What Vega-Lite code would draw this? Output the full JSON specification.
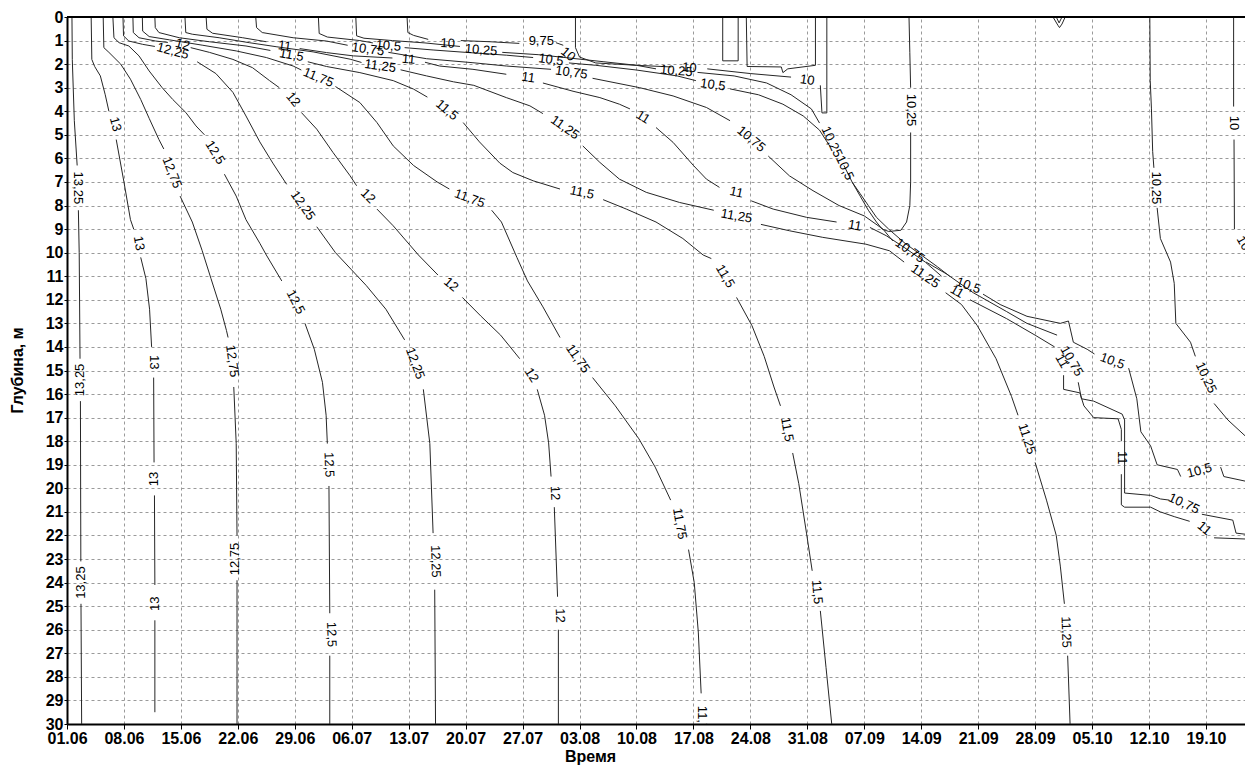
{
"$schema": "https://vega.github.io/schema/vega-lite/v6.json",
"width": 1178, "height": 707,
"autosize": "none",
"padding": {"left": 67, "top": 17, "right": 0, "bottom": 41},
"background": "white",
"config": {"view": {"stroke": null}, "axis": {"labelOverlap": false, "labelBound": false, "labelFlush": false}},
"datasets": {
"lines": [
{"s":"p1a","d":0.61,"z":0},{"s":"p1a","d":0.65,"z":1.8},{"s":"p1a","d":0.9,"z":4.4},{"s":"p1a","d":1.25,"z":6.3},
{"s":"p1b","d":1.4,"z":8.2},{"s":"p1b","d":1.5,"z":10},{"s":"p1b","d":1.6,"z":14.5},
{"s":"p1c","d":1.65,"z":16.3},{"s":"p1c","d":1.7,"z":23.1},
{"s":"p1d","d":1.72,"z":24.9},{"s":"p1d","d":1.8,"z":30},
{"s":"p2a","d":2.97,"z":0},{"s":"p2a","d":3.05,"z":1.8},{"s":"p2a","d":3.4,"z":2.1},{"s":"p2a","d":4.1,"z":2.5},{"s":"p2a","d":4.7,"z":3.3},{"s":"p2a","d":5.15,"z":4.0},
{"s":"p2b","d":6.05,"z":5.2},{"s":"p2b","d":7.0,"z":7.0},{"s":"p2b","d":7.8,"z":8.6},{"s":"p2b","d":8.2,"z":9.0},
{"s":"p2c","d":9.06,"z":10.2},{"s":"p2c","d":9.7,"z":11.1},{"s":"p2c","d":10.15,"z":12.4},{"s":"p2c","d":10.4,"z":14.0},
{"s":"p2d","d":10.65,"z":15.3},{"s":"p2d","d":10.7,"z":18.9},
{"s":"p2e","d":10.75,"z":20.3},{"s":"p2e","d":10.8,"z":24.1},
{"s":"p2f","d":10.8,"z":25.6},{"s":"p2f","d":10.8,"z":29.5},
{"s":"p3a","d":4.45,"z":0},{"s":"p3a","d":4.53,"z":1.3},{"s":"p3a","d":5.15,"z":1.5},{"s":"p3a","d":6.6,"z":2.0},{"s":"p3a","d":7.8,"z":2.64},{"s":"p3a","d":9.06,"z":3.5},{"s":"p3a","d":10.1,"z":4.3},{"s":"p3a","d":11.3,"z":5.2},{"s":"p3a","d":11.9,"z":5.6},
{"s":"p3b","d":13.9,"z":7.6},{"s":"p3b","d":15.4,"z":8.7},{"s":"p3b","d":16.6,"z":9.9},{"s":"p3b","d":17.7,"z":11.1},{"s":"p3b","d":18.9,"z":12.4},{"s":"p3b","d":19.6,"z":13.3},{"s":"p3b","d":19.8,"z":13.6},
{"s":"p3c","d":20.5,"z":15.7},{"s":"p3c","d":20.8,"z":18.1},{"s":"p3c","d":20.9,"z":22.0},
{"s":"p3d","d":20.9,"z":23.9},{"s":"p3d","d":20.9,"z":30},
{"s":"p4a","d":5.64,"z":0},{"s":"p4a","d":5.77,"z":0.88},{"s":"p4a","d":6.4,"z":1.09},{"s":"p4a","d":7.6,"z":1.23},{"s":"p4a","d":8.85,"z":1.65},{"s":"p4a","d":10.1,"z":2.29},{"s":"p4a","d":11.7,"z":3.0},{"s":"p4a","d":13.0,"z":3.5},{"s":"p4a","d":14.6,"z":4.05},{"s":"p4a","d":15.85,"z":4.62},{"s":"p4a","d":16.9,"z":5.0},
{"s":"p4b","d":19.35,"z":6.67},{"s":"p4b","d":20.8,"z":7.6},{"s":"p4b","d":22.0,"z":8.6},{"s":"p4b","d":23.7,"z":9.6},{"s":"p4b","d":24.5,"z":10.1},{"s":"p4b","d":26.4,"z":11.2},
{"s":"p4c","d":29.25,"z":13.0},{"s":"p4c","d":30.4,"z":14.1},{"s":"p4c","d":31.4,"z":15.5},{"s":"p4c","d":31.85,"z":16.9},{"s":"p4c","d":32.0,"z":18.1},
{"s":"p4d","d":32.2,"z":19.9},{"s":"p4d","d":32.3,"z":25.3},
{"s":"p4e","d":32.3,"z":27.1},{"s":"p4e","d":32.3,"z":30},
{"s":"p5a","d":6.88,"z":0},{"s":"p5a","d":6.95,"z":0.8},{"s":"p5a","d":7.6,"z":1.02},{"s":"p5a","d":9.3,"z":1.16},{"s":"p5a","d":10.8,"z":1.25},
{"s":"p5b","d":16.0,"z":1.9},{"s":"p5b","d":18.3,"z":2.4},{"s":"p5b","d":20.4,"z":3.2},{"s":"p5b","d":22.0,"z":4.2},{"s":"p5b","d":23.7,"z":5.3},{"s":"p5b","d":25.3,"z":6.2},{"s":"p5b","d":27.0,"z":7.1},
{"s":"p5c","d":30.7,"z":8.9},{"s":"p5c","d":33.0,"z":10.0},{"s":"p5c","d":34.9,"z":10.7},{"s":"p5c","d":36.8,"z":11.4},{"s":"p5c","d":39.2,"z":12.4},{"s":"p5c","d":41.5,"z":13.7},
{"s":"p5d","d":43.8,"z":15.8},{"s":"p5d","d":44.6,"z":18.1},{"s":"p5d","d":45.0,"z":21.9},
{"s":"p5e","d":45.2,"z":24.3},{"s":"p5e","d":45.3,"z":30},
{"s":"p6a","d":8.1,"z":0},{"s":"p6a","d":8.15,"z":0.66},{"s":"p6a","d":8.85,"z":0.88},{"s":"p6a","d":10.9,"z":1.02},{"s":"p6a","d":12.4,"z":1.08},
{"s":"p6b","d":15.2,"z":1.3},{"s":"p6b","d":17.5,"z":1.5},{"s":"p6b","d":20.4,"z":1.8},{"s":"p6b","d":22.8,"z":2.15},{"s":"p6b","d":24.9,"z":2.7},{"s":"p6b","d":26.1,"z":3.0},
{"s":"p6c","d":28.8,"z":4.05},{"s":"p6c","d":30.7,"z":4.76},{"s":"p6c","d":32.7,"z":5.75},{"s":"p6c","d":34.8,"z":6.74},{"s":"p6c","d":35.6,"z":7.16},
{"s":"p6d","d":38.1,"z":8.15},{"s":"p6d","d":40.1,"z":8.86},{"s":"p6d","d":43.2,"z":10.1},{"s":"p6d","d":45.6,"z":10.95},
{"s":"p6e","d":48.6,"z":11.9},{"s":"p6e","d":50.9,"z":12.7},{"s":"p6e","d":53.3,"z":13.5},{"s":"p6e","d":55.65,"z":14.5},
{"s":"p6f","d":57.8,"z":15.8},{"s":"p6f","d":58.7,"z":16.9},{"s":"p6f","d":59.2,"z":18.07},{"s":"p6f","d":59.5,"z":19.5},
{"s":"p6g","d":59.9,"z":20.8},{"s":"p6g","d":60.3,"z":24.6},
{"s":"p6h","d":60.4,"z":26.0},{"s":"p6h","d":60.4,"z":30},
{"s":"p7a","d":9.26,"z":0},{"s":"p7a","d":9.3,"z":0.6},{"s":"p7a","d":10.1,"z":0.83},{"s":"p7a","d":12.6,"z":0.97},{"s":"p7a","d":16.7,"z":1.2},{"s":"p7a","d":20.8,"z":1.44},{"s":"p7a","d":24.5,"z":1.72},{"s":"p7a","d":27.8,"z":2.08},{"s":"p7a","d":28.8,"z":2.25},
{"s":"p7b","d":33.0,"z":2.95},{"s":"p7b","d":36.0,"z":3.63},{"s":"p7b","d":38.1,"z":4.48},{"s":"p7b","d":40.1,"z":5.47},{"s":"p7b","d":42.6,"z":6.3},{"s":"p7b","d":45.5,"z":7.0},{"s":"p7b","d":47.0,"z":7.3},
{"s":"p7c","d":52.2,"z":8.2},{"s":"p7c","d":53.4,"z":8.7},{"s":"p7c","d":55.3,"z":10.2},{"s":"p7c","d":56.6,"z":11.2},{"s":"p7c","d":58.5,"z":12.3},{"s":"p7c","d":60.6,"z":13.6},
{"s":"p7d","d":64.6,"z":15.3},{"s":"p7d","d":67.4,"z":16.5},{"s":"p7d","d":70.3,"z":17.9},{"s":"p7d","d":72.3,"z":19.1},{"s":"p7d","d":74.2,"z":20.5},
{"s":"p7e","d":76.4,"z":22.6},{"s":"p7e","d":77.1,"z":24.0},{"s":"p7e","d":77.6,"z":26.1},{"s":"p7e","d":77.95,"z":28.7},
{"s":"p8a","d":10.8,"z":0},{"s":"p8a","d":10.85,"z":0.45},{"s":"p8a","d":11.3,"z":0.66},{"s":"p8a","d":13.8,"z":0.88},{"s":"p8a","d":17.5,"z":1.05},{"s":"p8a","d":22.0,"z":1.23},{"s":"p8a","d":25.0,"z":1.42},
{"s":"p8b","d":29.6,"z":1.9},{"s":"p8b","d":31.9,"z":2.1},{"s":"p8b","d":36.0,"z":2.36},{"s":"p8b","d":40.1,"z":2.7},{"s":"p8b","d":42.6,"z":3.06},{"s":"p8b","d":44.3,"z":3.4},
{"s":"p8c","d":48.7,"z":4.48},{"s":"p8c","d":50.7,"z":5.3},{"s":"p8c","d":53.2,"z":6.2},{"s":"p8c","d":54.8,"z":6.6},{"s":"p8c","d":57.3,"z":6.95},{"s":"p8c","d":60.6,"z":7.3},
{"s":"p8d","d":65.9,"z":7.75},{"s":"p8d","d":68.75,"z":8.15},{"s":"p8d","d":72.4,"z":8.7},{"s":"p8d","d":75.7,"z":9.4},{"s":"p8d","d":78.2,"z":10.1},{"s":"p8d","d":79.2,"z":10.25},
{"s":"p8e","d":82.3,"z":11.9},{"s":"p8e","d":84.2,"z":13.1},{"s":"p8e","d":85.7,"z":14.4},{"s":"p8e","d":86.9,"z":15.7},{"s":"p8e","d":87.7,"z":16.5},
{"s":"p8f","d":89.2,"z":18.5},{"s":"p8f","d":89.95,"z":19.8},{"s":"p8f","d":90.9,"z":21.9},{"s":"p8f","d":91.6,"z":23.5},
{"s":"p8g","d":92.6,"z":25.2},{"s":"p8g","d":93.3,"z":27.6},{"s":"p8g","d":94.0,"z":30},
{"s":"p9a","d":14.5,"z":0},{"s":"p9a","d":14.6,"z":0.66},{"s":"p9a","d":15.4,"z":0.73},{"s":"p9a","d":18.7,"z":0.88},{"s":"p9a","d":22.4,"z":1.09},{"s":"p9a","d":25.7,"z":1.26},{"s":"p9a","d":30.25,"z":1.48},{"s":"p9a","d":34.8,"z":1.79},{"s":"p9a","d":36.2,"z":1.93},
{"s":"p9b","d":41.0,"z":2.24},{"s":"p9b","d":44.2,"z":2.5},{"s":"p9b","d":47.5,"z":2.75},{"s":"p9b","d":50.0,"z":2.9},{"s":"p9b","d":54.0,"z":3.42},{"s":"p9b","d":56.9,"z":3.77},{"s":"p9b","d":58.5,"z":4.1},
{"s":"p9c","d":63.4,"z":5.47},{"s":"p9c","d":65.5,"z":6.17},{"s":"p9c","d":67.9,"z":6.88},{"s":"p9c","d":71.2,"z":7.44},{"s":"p9c","d":75.3,"z":7.87},{"s":"p9c","d":79.5,"z":8.2},
{"s":"p9d","d":85.3,"z":8.8},{"s":"p9d","d":88.8,"z":9.07},{"s":"p9d","d":92.9,"z":9.35},{"s":"p9d","d":98.2,"z":9.64},{"s":"p9d","d":101.1,"z":9.92},{"s":"p9d","d":102.9,"z":10.4},
{"s":"p9e","d":108.0,"z":11.7},{"s":"p9e","d":109.95,"z":12.2},{"s":"p9e","d":111.9,"z":13.1},{"s":"p9e","d":114.2,"z":14.5},{"s":"p9e","d":116.1,"z":16.1},{"s":"p9e","d":116.9,"z":16.9},
{"s":"p9f","d":119.0,"z":18.9},{"s":"p9f","d":120.4,"z":20.5},{"s":"p9f","d":121.6,"z":22.0},{"s":"p9f","d":122.1,"z":23.3},{"s":"p9f","d":122.6,"z":24.9},
{"s":"p9g","d":123.0,"z":27.1},{"s":"p9g","d":123.3,"z":30},
{"s":"q1a","d":17.1,"z":0},{"s":"q1a","d":17.2,"z":0.52},{"s":"q1a","d":17.9,"z":0.69},{"s":"q1a","d":21.6,"z":0.88},{"s":"q1a","d":24.5,"z":1.05},
{"s":"q1b","d":28.6,"z":1.34},{"s":"q1b","d":31.9,"z":1.51},{"s":"q1b","d":35.2,"z":1.65},{"s":"q1b","d":40.0,"z":1.74},
{"s":"q1c","d":44.0,"z":1.92},{"s":"q1c","d":45.8,"z":2.08},{"s":"q1c","d":49.9,"z":2.22},{"s":"q1c","d":54.0,"z":2.43},
{"s":"q1d","d":58.5,"z":2.8},{"s":"q1d","d":62.2,"z":3.15},{"s":"q1d","d":65.5,"z":3.42},{"s":"q1d","d":67.9,"z":3.7},{"s":"q1d","d":69.2,"z":3.9},
{"s":"q1e","d":72.4,"z":4.69},{"s":"q1e","d":74.5,"z":5.32},{"s":"q1e","d":77.0,"z":6.3},{"s":"q1e","d":78.6,"z":6.88},{"s":"q1e","d":80.2,"z":7.23},
{"s":"q1f","d":84.1,"z":7.8},{"s":"q1f","d":86.8,"z":8.15},{"s":"q1f","d":90.9,"z":8.5},{"s":"q1f","d":94.6,"z":8.7},
{"s":"q1g","d":98.7,"z":8.93},{"s":"q1g","d":100.7,"z":9.28},{"s":"q1g","d":103.0,"z":9.8},{"s":"q1g","d":105.5,"z":10.4},{"s":"q1g","d":107.5,"z":11.0},
{"s":"q1h","d":111.0,"z":12.0},{"s":"q1h","d":115.5,"z":12.8},{"s":"q1h","d":119.0,"z":13.5},{"s":"q1h","d":121.4,"z":14.0},
{"s":"q1i","d":122.5,"z":15.2},{"s":"q1i","d":122.5,"z":15.8},{"s":"q1i","d":124.5,"z":15.95},{"s":"q1i","d":125.0,"z":16.5},{"s":"q1i","d":126.2,"z":17.0},{"s":"q1i","d":129.2,"z":17.05},{"s":"q1i","d":129.6,"z":17.5},{"s":"q1i","d":129.6,"z":18.0},
{"s":"q1j","d":129.6,"z":19.4},{"s":"q1j","d":129.6,"z":20.7},{"s":"q1j","d":130.0,"z":20.8},{"s":"q1j","d":133.2,"z":20.8},{"s":"q1j","d":134.4,"z":21.0},{"s":"q1j","d":136.1,"z":21.2},{"s":"q1j","d":138.0,"z":21.4},
{"s":"q1k","d":141.0,"z":22.1},{"s":"q1k","d":144.9,"z":22.15},
{"s":"q2a","d":23.2,"z":0},{"s":"q2a","d":23.3,"z":0.45},{"s":"q2a","d":24.0,"z":0.66},{"s":"q2a","d":27.8,"z":0.88},{"s":"q2a","d":31.9,"z":1.02},{"s":"q2a","d":34.5,"z":1.2},
{"s":"q2b","d":39.5,"z":1.5},{"s":"q2b","d":44.2,"z":1.77},{"s":"q2b","d":49.9,"z":1.94},{"s":"q2b","d":54.0,"z":2.08},{"s":"q2b","d":59.5,"z":2.22},
{"s":"q2c","d":64.6,"z":2.6},{"s":"q2c","d":70.4,"z":3.0},{"s":"q2c","d":74.5,"z":3.35},{"s":"q2c","d":78.6,"z":3.84},{"s":"q2c","d":81.5,"z":4.4},
{"s":"q2d","d":86.2,"z":5.9},{"s":"q2d","d":88.8,"z":6.74},{"s":"q2d","d":91.7,"z":7.37},{"s":"q2d","d":94.9,"z":8.0},{"s":"q2d","d":98.0,"z":8.44},{"s":"q2d","d":100.3,"z":9.0},{"s":"q2d","d":101.5,"z":9.5},
{"s":"q2e","d":105.6,"z":10.4},{"s":"q2e","d":108.1,"z":10.9},{"s":"q2e","d":111.4,"z":11.7},{"s":"q2e","d":115.5,"z":12.5},{"s":"q2e","d":118.0,"z":13.0},{"s":"q2e","d":121.7,"z":13.5},
{"s":"q2f","d":124.3,"z":15.5},{"s":"q2f","d":124.7,"z":16.2},{"s":"q2f","d":126.2,"z":16.3},{"s":"q2f","d":129.7,"z":16.85},{"s":"q2f","d":130.0,"z":17.1},{"s":"q2f","d":130.0,"z":20.2},{"s":"q2f","d":133.2,"z":20.3},{"s":"q2f","d":134.4,"z":20.45},{"s":"q2f","d":135.5,"z":20.5},
{"s":"q2g","d":139.5,"z":21.1},{"s":"q2g","d":143.3,"z":21.35},{"s":"q2g","d":143.7,"z":21.9},{"s":"q2g","d":144.9,"z":21.95},
{"s":"q3a","d":30.9,"z":0},{"s":"q3a","d":31.0,"z":0.7},{"s":"q3a","d":32.0,"z":0.85},{"s":"q3a","d":36.0,"z":1.0},{"s":"q3a","d":37.6,"z":1.1},
{"s":"q3b","d":41.5,"z":1.3},{"s":"q3b","d":45.0,"z":1.4},{"s":"q3b","d":49.0,"z":1.5},{"s":"q3b","d":54.0,"z":1.62},{"s":"q3b","d":57.3,"z":1.72},
{"s":"q3c","d":61.7,"z":1.95},{"s":"q3c","d":65.0,"z":2.05},{"s":"q3c","d":70.0,"z":2.25},{"s":"q3c","d":75.0,"z":2.5},{"s":"q3c","d":77.3,"z":2.7},
{"s":"q3d","d":81.5,"z":3.05},{"s":"q3d","d":85.0,"z":3.3},{"s":"q3d","d":88.0,"z":3.7},{"s":"q3d","d":90.5,"z":4.2},{"s":"q3d","d":92.5,"z":4.8},{"s":"q3d","d":93.8,"z":5.5},
{"s":"q3e","d":96.5,"z":7.0},{"s":"q3e","d":97.5,"z":7.5},{"s":"q3e","d":98.5,"z":8.0},{"s":"q3e","d":99.5,"z":8.5},{"s":"q3e","d":101.0,"z":9.0},{"s":"q3e","d":103.0,"z":9.6},{"s":"q3e","d":105.0,"z":10.1},{"s":"q3e","d":107.0,"z":10.6},{"s":"q3e","d":108.5,"z":11.0},
{"s":"q3f","d":112.6,"z":11.76},{"s":"q3f","d":114.7,"z":12.2},{"s":"q3f","d":118.0,"z":12.7},{"s":"q3f","d":122.1,"z":13.0},{"s":"q3f","d":123.1,"z":12.9},{"s":"q3f","d":123.7,"z":13.8},{"s":"q3f","d":125.4,"z":14.1},{"s":"q3f","d":126.3,"z":14.3},
{"s":"q3g","d":130.5,"z":14.9},{"s":"q3g","d":131.5,"z":16.2},{"s":"q3g","d":132.0,"z":17.6},{"s":"q3g","d":133.2,"z":18.2},{"s":"q3g","d":134.0,"z":19.0},{"s":"q3g","d":136.5,"z":19.2},{"s":"q3g","d":136.9,"z":19.5},
{"s":"q3h","d":141.8,"z":19.1},{"s":"q3h","d":142.2,"z":19.5},{"s":"q3h","d":144.9,"z":19.7},
{"s":"q4a","d":35.5,"z":0},{"s":"q4a","d":35.6,"z":0.8},{"s":"q4a","d":36.5,"z":0.9},{"s":"q4a","d":40.0,"z":1.0},{"s":"q4a","d":44.0,"z":1.1},{"s":"q4a","d":48.3,"z":1.25},
{"s":"q4b","d":53.5,"z":1.5},{"s":"q4b","d":58.0,"z":1.6},{"s":"q4b","d":62.0,"z":1.75},{"s":"q4b","d":66.0,"z":1.9},{"s":"q4b","d":70.0,"z":2.05},{"s":"q4b","d":72.4,"z":2.2},
{"s":"q4c","d":77.5,"z":2.35},{"s":"q4c","d":82.0,"z":2.5},{"s":"q4c","d":86.0,"z":2.8},{"s":"q4c","d":89.0,"z":3.3},{"s":"q4c","d":91.5,"z":3.9},{"s":"q4c","d":92.5,"z":4.5},
{"s":"q4d","d":95.5,"z":6.3},{"s":"q4d","d":96.5,"z":7.0},{"s":"q4d","d":97.5,"z":7.6},{"s":"q4d","d":98.5,"z":8.2},{"s":"q4d","d":99.5,"z":8.7},{"s":"q4d","d":100.2,"z":9.0},{"s":"q4d","d":101.0,"z":9.1},{"s":"q4d","d":102.5,"z":9.05},{"s":"q4d","d":103.2,"z":8.7},{"s":"q4d","d":103.6,"z":8.0},{"s":"q4d","d":103.7,"z":7.0},{"s":"q4d","d":103.7,"z":4.9},
{"s":"q4e","d":103.7,"z":3.0},{"s":"q4e","d":103.6,"z":1.5},{"s":"q4e","d":103.5,"z":0},
{"s":"q5a","d":133.1,"z":0},{"s":"q5a","d":133.15,"z":2.7},{"s":"q5a","d":133.3,"z":3.9},{"s":"q5a","d":133.45,"z":5.7},{"s":"q5a","d":133.6,"z":6.4},
{"s":"q5b","d":134.0,"z":8.1},{"s":"q5b","d":134.4,"z":9.4},{"s":"q5b","d":135.65,"z":10.4},{"s":"q5b","d":136.1,"z":11.3},{"s":"q5b","d":136.3,"z":13.0},{"s":"q5b","d":138.1,"z":13.8},{"s":"q5b","d":138.7,"z":14.4},
{"s":"q5c","d":141.0,"z":16.4},{"s":"q5c","d":142.7,"z":17.1},{"s":"q5c","d":144.9,"z":17.8},
{"s":"q6a","d":41.8,"z":0},{"s":"q6a","d":41.9,"z":0.66},{"s":"q6a","d":42.6,"z":0.78},{"s":"q6a","d":44.4,"z":0.95},
{"s":"q6b","d":48.4,"z":1.0},{"s":"q6b","d":52.0,"z":1.05},{"s":"q6b","d":55.6,"z":1.12},
{"s":"q6c","d":60.1,"z":1.09},{"s":"q6c","d":61.0,"z":1.2},
{"s":"q7a","d":62.5,"z":0},{"s":"q7a","d":62.5,"z":1.3},{"s":"q7a","d":63.0,"z":1.7},{"s":"q7a","d":65.0,"z":1.95},{"s":"q7a","d":70.0,"z":2.05},{"s":"q7a","d":74.3,"z":2.12},
{"s":"q7b","d":78.7,"z":2.2},{"s":"q7b","d":84.0,"z":2.4},{"s":"q7b","d":89.0,"z":2.55},
{"s":"q7c","d":92.6,"z":2.9},{"s":"q7c","d":92.8,"z":4.07},{"s":"q7c","d":93.4,"z":4.07},{"s":"q7c","d":93.4,"z":0},
{"s":"r1","d":80.6,"z":0},{"s":"r1","d":80.6,"z":1.86},{"s":"r1","d":82.5,"z":1.86},{"s":"r1","d":82.5,"z":0},
{"s":"r2","d":83.5,"z":0},{"s":"r2","d":83.6,"z":2.1},{"s":"r2","d":87.8,"z":2.12},{"s":"r2","d":88.0,"z":2.36},{"s":"r2","d":88.6,"z":2.2},{"s":"r2","d":92.0,"z":2.05},{"s":"r2","d":92.0,"z":0},
{"s":"r3","d":121.2,"z":0},{"s":"r3","d":121.8,"z":0.35},{"s":"r3","d":122.0,"z":0.45},{"s":"r3","d":122.3,"z":0.3},{"s":"r3","d":122.7,"z":0},
{"s":"r4","d":121.6,"z":0},{"s":"r4","d":121.95,"z":0.25},{"s":"r4","d":122.3,"z":0},
{"s":"q8a","d":143.4,"z":0},{"s":"q8a","d":143.4,"z":3.8},
{"s":"q8b","d":143.45,"z":5.2},{"s":"q8b","d":143.5,"z":9.0}
],
"labels": [
{"t":"13,25","d":1.35,"z":7.25,"angle":90},{"t":"13,25","d":1.6,"z":15.4,"angle":-90},{"t":"13,25","d":1.7,"z":24.0,"angle":-90},
{"t":"13","d":5.95,"z":4.55,"angle":75},{"t":"13","d":8.85,"z":9.6,"angle":80},{"t":"13","d":10.65,"z":14.65,"angle":90},{"t":"13","d":10.7,"z":19.6,"angle":-90},{"t":"13","d":10.8,"z":24.9,"angle":-90},
{"t":"12,75","d":12.9,"z":6.6,"angle":68},{"t":"12,75","d":20.3,"z":14.6,"angle":82},{"t":"12,75","d":20.7,"z":23.0,"angle":-90},
{"t":"12,5","d":18.2,"z":5.75,"angle":58},{"t":"12,5","d":28.1,"z":12.1,"angle":62},{"t":"12,5","d":32.2,"z":19.0,"angle":88},{"t":"12,5","d":32.5,"z":26.2,"angle":88},
{"t":"12,25","d":13.0,"z":1.45,"angle":15},{"t":"12,25","d":29.0,"z":8.0,"angle":55},{"t":"12,25","d":42.8,"z":14.7,"angle":70},{"t":"12,25","d":45.3,"z":23.1,"angle":88},
{"t":"12","d":14.2,"z":1.17,"angle":15},{"t":"12","d":27.8,"z":3.5,"angle":50},{"t":"12","d":37.0,"z":7.6,"angle":45},{"t":"12","d":47.2,"z":11.35,"angle":40},{"t":"12","d":57.1,"z":15.2,"angle":58},{"t":"12","d":60.0,"z":20.2,"angle":88},{"t":"12","d":60.6,"z":25.4,"angle":88},
{"t":"11,75","d":30.9,"z":2.57,"angle":22},{"t":"11,75","d":49.5,"z":7.7,"angle":20},{"t":"11,75","d":62.8,"z":14.5,"angle":55},{"t":"11,75","d":75.3,"z":21.5,"angle":80},{"t":"11,75","d":78.0,"z":29.9,"angle":90},
{"t":"11,5","d":27.6,"z":1.62,"angle":10},{"t":"11,5","d":46.7,"z":3.95,"angle":40},{"t":"11,5","d":63.3,"z":7.45,"angle":12},{"t":"11,5","d":80.9,"z":11.0,"angle":60},{"t":"11,5","d":88.5,"z":17.5,"angle":80},{"t":"11,5","d":92.2,"z":24.4,"angle":85},
{"t":"11,25","d":38.5,"z":2.08,"angle":8},{"t":"11,25","d":61.2,"z":4.69,"angle":35},{"t":"11,25","d":82.3,"z":8.45,"angle":10},{"t":"11,25","d":105.5,"z":11.0,"angle":35},{"t":"11,25","d":118.0,"z":17.9,"angle":72},{"t":"11,25","d":122.8,"z":26.1,"angle":88},
{"t":"11","d":26.75,"z":1.23,"angle":8},{"t":"11","d":42.0,"z":1.8,"angle":5},{"t":"11","d":56.7,"z":2.57,"angle":8},{"t":"11","d":70.8,"z":4.25,"angle":32},{"t":"11","d":82.3,"z":7.44,"angle":12},{"t":"11","d":96.85,"z":8.85,"angle":10},{"t":"11","d":109.4,"z":11.65,"angle":30},{"t":"11","d":122.3,"z":14.6,"angle":60},{"t":"11","d":129.7,"z":18.7,"angle":90},{"t":"11","d":139.8,"z":21.7,"angle":40},
{"t":"10,75","d":37.0,"z":1.37,"angle":8},{"t":"10,75","d":62.0,"z":2.36,"angle":8},{"t":"10,75","d":84.1,"z":5.18,"angle":40},{"t":"10,75","d":103.6,"z":9.92,"angle":35},{"t":"10,75","d":123.5,"z":14.6,"angle":60},{"t":"10,75","d":137.3,"z":20.65,"angle":25},
{"t":"10,5","d":39.5,"z":1.22,"angle":5},{"t":"10,5","d":59.5,"z":1.82,"angle":8},{"t":"10,5","d":79.4,"z":2.88,"angle":8},{"t":"10,5","d":95.6,"z":6.4,"angle":65},{"t":"10,5","d":110.8,"z":11.4,"angle":20},{"t":"10,5","d":128.5,"z":14.6,"angle":20},{"t":"10,5","d":139.2,"z":19.25,"angle":-15},
{"t":"10,25","d":50.9,"z":1.4,"angle":5},{"t":"10,25","d":74.9,"z":2.29,"angle":5},{"t":"10,25","d":94.0,"z":5.3,"angle":65},{"t":"10,25","d":103.8,"z":3.95,"angle":90},{"t":"10,25","d":133.9,"z":7.25,"angle":90},{"t":"10,25","d":140.0,"z":15.3,"angle":65},
{"t":"10","d":46.8,"z":1.12,"angle":3},{"t":"9,75","d":58.3,"z":1.02,"angle":0},{"t":"10","d":61.6,"z":1.58,"angle":40},{"t":"10","d":76.5,"z":2.15,"angle":5},{"t":"10","d":91.0,"z":2.67,"angle":8},{"t":"10","d":143.4,"z":4.5,"angle":90},{"t":"10","d":144.6,"z":9.6,"angle":60}
],
"border": [{"z": 0}]
},
"layer": [
{
"data": {"name": "lines"},
"transform": [{"window": [{"op": "row_number", "as": "i"}], "groupby": ["s"]}],
"mark": {"type": "line", "stroke": "#262626", "strokeWidth": 1, "clip": true},
"encoding": {
"x": {"field": "d", "type": "quantitative",
"scale": {"domain": [0, 144.8], "nice": false, "zero": false},
"axis": {"values": [0,7,14,21,28,35,42,49,56,63,70,77,84,91,98,105,112,119,126,133,140],
"labelExpr": "timeFormat(datetime(2021, 5, 1 + datum.value), '%d.%m')",
"title": "Время", "titleX": 523, "titleY": 40, "titleBaseline": "bottom",
"titleFont": "Liberation Sans", "titleFontSize": 16, "titleFontWeight": "bold", "titleColor": "#000",
"labelFont": "Liberation Sans", "labelFontSize": 16, "labelFontWeight": "bold", "labelColor": "#000",
"labelPadding": 1, "tickColor": "#000", "tickSize": 5, "domainColor": "#000", "domainWidth": 2,
"grid": true, "gridColor": "#9a9a9a", "gridDash": [3, 3], "gridWidth": 1}},
"y": {"field": "z", "type": "quantitative",
"scale": {"domain": [0, 30], "nice": false, "zero": false, "reverse": true},
"axis": {"values": [0,1,2,3,4,5,6,7,8,9,10,11,12,13,14,15,16,17,18,19,20,21,22,23,24,25,26,27,28,29,30],
"title": "Глубина, м", "titleX": -42, "titleY": 353, "titleBaseline": "bottom", "titleAngle": -90,
"titleFont": "Liberation Sans", "titleFontSize": 16, "titleFontWeight": "bold", "titleColor": "#000",
"labelFont": "Liberation Sans", "labelFontSize": 16, "labelFontWeight": "bold", "labelColor": "#000",
"labelPadding": 1, "tickColor": "#000", "tickSize": 3, "domainColor": "#000", "domainWidth": 2,
"grid": true, "gridColor": "#9a9a9a", "gridDash": [3, 3], "gridWidth": 1}},
"detail": {"field": "s", "type": "nominal"},
"order": {"field": "i", "type": "quantitative"}
}
},
{
"data": {"name": "labels"},
"mark": {"type": "text", "font": "Liberation Sans", "fontSize": 13, "color": "#000", "align": "center", "baseline": "middle", "clip": true},
"encoding": {
"x": {"field": "d", "type": "quantitative",
"axis": {"values": [0,7,14,21,28,35,42,49,56,63,70,77,84,91,98,105,112,119,126,133,140],
"labelExpr": "timeFormat(datetime(2021, 5, 1 + datum.value), '%d.%m')",
"title": "Время", "titleX": 523, "titleY": 40, "titleBaseline": "bottom",
"titleFont": "Liberation Sans", "titleFontSize": 16, "titleFontWeight": "bold", "titleColor": "#000",
"labelFont": "Liberation Sans", "labelFontSize": 16, "labelFontWeight": "bold", "labelColor": "#000",
"labelPadding": 1, "tickColor": "#000", "tickSize": 5, "domainColor": "#000", "domainWidth": 2,
"grid": true, "gridColor": "#9a9a9a", "gridDash": [3, 3], "gridWidth": 1}},
"y": {"field": "z", "type": "quantitative",
"axis": {"values": [0,1,2,3,4,5,6,7,8,9,10,11,12,13,14,15,16,17,18,19,20,21,22,23,24,25,26,27,28,29,30],
"title": "Глубина, м", "titleX": -42, "titleY": 353, "titleBaseline": "bottom", "titleAngle": -90,
"titleFont": "Liberation Sans", "titleFontSize": 16, "titleFontWeight": "bold", "titleColor": "#000",
"labelFont": "Liberation Sans", "labelFontSize": 16, "labelFontWeight": "bold", "labelColor": "#000",
"labelPadding": 1, "tickColor": "#000", "tickSize": 3, "domainColor": "#000", "domainWidth": 2,
"grid": true, "gridColor": "#9a9a9a", "gridDash": [3, 3], "gridWidth": 1}},
"text": {"field": "t", "type": "nominal"},
"angle": {"field": "angle", "type": "quantitative", "scale": null}
}
},
{
"data": {"name": "border"},
"mark": {"type": "rule", "color": "#000", "strokeWidth": 2},
"encoding": {"y": {"field": "z", "type": "quantitative",
"axis": {"values": [0,1,2,3,4,5,6,7,8,9,10,11,12,13,14,15,16,17,18,19,20,21,22,23,24,25,26,27,28,29,30],
"title": "Глубина, м", "titleX": -42, "titleY": 353, "titleBaseline": "bottom", "titleAngle": -90,
"titleFont": "Liberation Sans", "titleFontSize": 16, "titleFontWeight": "bold", "titleColor": "#000",
"labelFont": "Liberation Sans", "labelFontSize": 16, "labelFontWeight": "bold", "labelColor": "#000",
"labelPadding": 1, "tickColor": "#000", "tickSize": 3, "domainColor": "#000", "domainWidth": 2,
"grid": true, "gridColor": "#9a9a9a", "gridDash": [3, 3], "gridWidth": 1}}}
}
]
}
